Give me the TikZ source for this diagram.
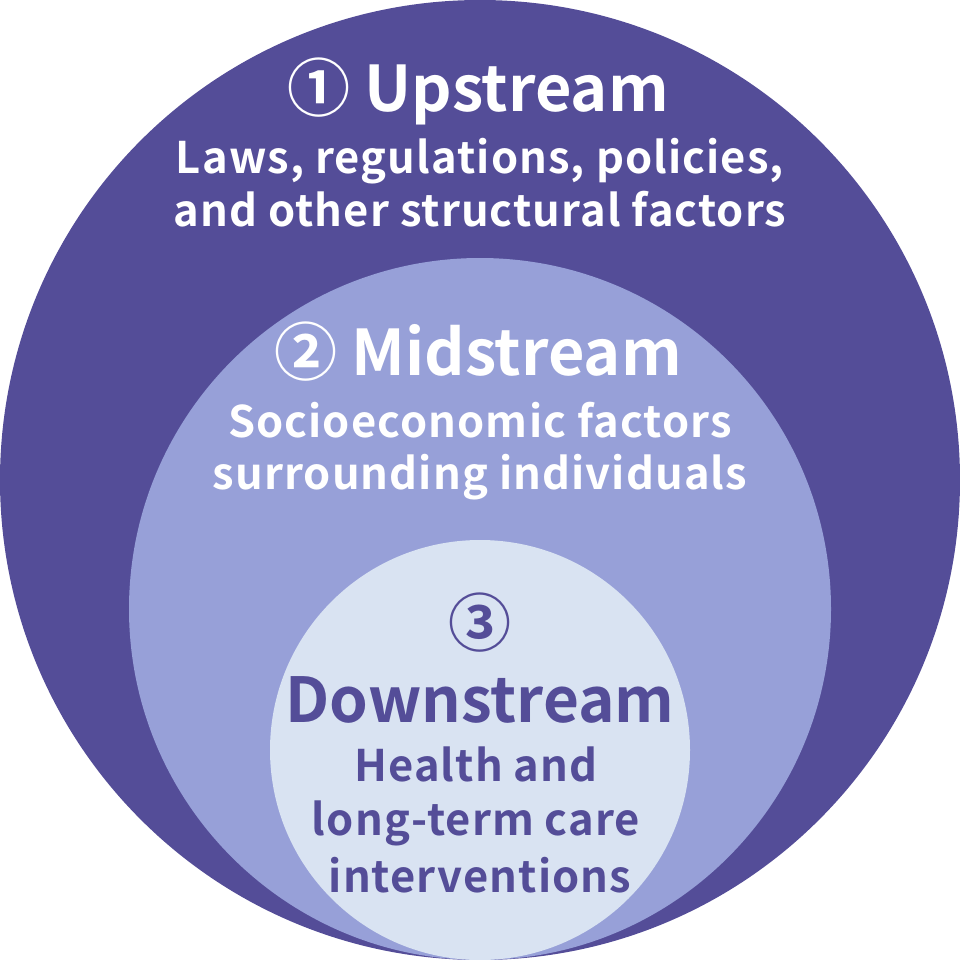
\documentclass[tikz,border=0pt]{standalone}
\usepackage{fontspec}
\newfontfamily\jpfont{Noto Sans CJK JP}[BoldFont={Noto Sans CJK JP Bold}]
\newfontfamily\jpwide{Noto Sans CJK JP Bold}[LetterSpace=2.5]
\definecolor{upc}{HTML}{544D98}
\definecolor{midc}{HTML}{97A0D8}
\definecolor{lowc}{HTML}{D9E3F2}
\tikzset{
  big/.style={font=\jpfont\bfseries\fontsize{63}{63}\selectfont, inner sep=0pt, anchor=base},
  small/.style={font=\jpwide\fontsize{43.5}{43.5}\selectfont, inner sep=0pt, anchor=base},
  wt/.style={text=white},
  pt/.style={text=upc}
}
\begin{document}
\begin{tikzpicture}[x=1pt,y=-1pt]
\useasboundingbox (0,0) rectangle (960,960);
\fill[upc] (480,480) circle[radius=480];
\fill[midc] (480,609) circle[radius=351];
\fill[lowc] (480,750) circle[radius=210];
\node[big,wt] (up) at (478,112) {① Upstream};
\node[small,wt] (up1) at (480,174) {Laws, regulations, policies,};
\node[small,wt] (up2) at (480,226) {and other structural factors};
\node[big,wt] (mid) at (478,375) {② Midstream};
\node[small,wt] (mid1) at (480,437) {Socioeconomic factors};
\node[small,wt] (mid2) at (480,489) {surrounding individuals};
\node[big,pt] (dn0) at (480,646) {③};
\node[big,pt,font=\jpfont\bfseries\fontsize{62}{62}\selectfont] (dn) at (480,722) {Downstream};
\node[small,pt] (dn1) at (476,781) {Health and};
\node[small,pt] (dn2) at (476,835) {long-term care};
\node[small,pt] (dn3) at (480,892) {interventions};
\end{tikzpicture}
\end{document}
